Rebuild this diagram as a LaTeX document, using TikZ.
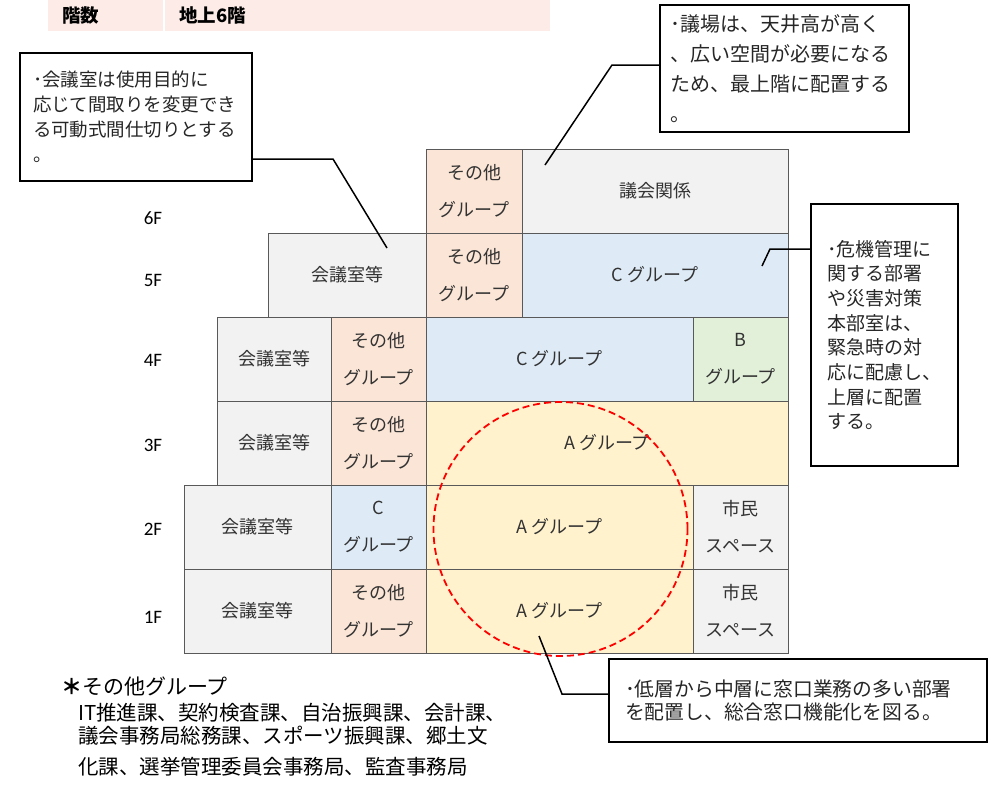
\documentclass[tikz,border=0pt]{standalone}
\usepackage{fontspec}
\setmainfont{Noto Sans CJK JP}
\newfontfamily\floorfont{Carlito}
\usetikzlibrary{positioning}
\definecolor{roomgray}{HTML}{F2F2F2}
\definecolor{otherpeach}{HTML}{FBE5D6}
\definecolor{groupblue}{HTML}{DEEBF7}
\definecolor{groupgreen}{HTML}{E2F0D9}
\definecolor{groupyellow}{HTML}{FFF2CC}
\definecolor{headpink}{HTML}{FCEBE6}
\definecolor{edgegray}{HTML}{595959}
\definecolor{textgray}{HTML}{333333}

\begin{document}
\begin{tikzpicture}[x=1pt,y=-1pt]
	\tikzset{
	  RoomStyle/.style = { draw=edgegray, line width=0.9pt, inner sep=0pt,
	                       outer sep=0pt, minimum height=84, anchor=north west,
	                       align=center, text=textgray,
	                       font=\fontsize{18}{37}\selectfont },
	  HeadStyle/.style = { fill=headpink, minimum height=31, inner ysep=0pt,
	                       inner xsep=14pt, anchor=north west, align=left,
	                       font=\bfseries\fontsize{18.5}{20}\selectfont },
	  NoteStyle/.style = { draw, line width=1.6pt, inner ysep=0pt,
	                       align=left, text=black!85 },
	  LeaderStyle/.style = { line width=1.5pt },
	  FloorStyle/.style = { font=\floorfont\fontsize{19}{19}\selectfont },
	  ListStyle/.style = { anchor=west, inner sep=0pt,
	                       font=\fontsize{20.5}{20}\selectfont } }
	\useasboundingbox (0,0) rectangle (989,785);
	% header
	\node[HeadStyle, minimum width=115, text width=87] (head1) at (48,0) {階数};
	\node[HeadStyle, minimum width=385, text width=357] (head2) at (165,0) {地上6階};
	% 6F
	\node[RoomStyle, fill=otherpeach, minimum width=96] (r6a) at (426,149) {その他\\グループ};
	\node[RoomStyle, fill=roomgray, minimum width=266, right=0pt of r6a] (r6b) {議会関係};
	% 5F
	\node[RoomStyle, fill=roomgray, minimum width=158] (r5a) at (268,233) {会議室等};
	\node[RoomStyle, fill=otherpeach, minimum width=96, right=0pt of r5a] (r5b) {その他\\グループ};
	\node[RoomStyle, fill=groupblue, minimum width=266, right=0pt of r5b] (r5c) {C グループ};
	% 4F
	\node[RoomStyle, fill=roomgray, minimum width=114] (r4a) at (217,317) {会議室等};
	\node[RoomStyle, fill=otherpeach, minimum width=95, right=0pt of r4a] (r4b) {その他\\グループ};
	\node[RoomStyle, fill=groupblue, minimum width=267, right=0pt of r4b] (r4c) {C グループ};
	\node[RoomStyle, fill=groupgreen, minimum width=95, right=0pt of r4c] (r4d) {B\\グループ};
	% 3F
	\node[RoomStyle, fill=roomgray, minimum width=114] (r3a) at (217,401) {会議室等};
	\node[RoomStyle, fill=otherpeach, minimum width=95, right=0pt of r3a] (r3b) {その他\\グループ};
	\node[RoomStyle, fill=groupyellow, minimum width=362, right=0pt of r3b] (r3c) {A グループ};
	% 2F
	\node[RoomStyle, fill=roomgray, minimum width=147] (r2a) at (184,485) {会議室等};
	\node[RoomStyle, fill=groupblue, minimum width=95, right=0pt of r2a] (r2b) {C\\グループ};
	\node[RoomStyle, fill=groupyellow, minimum width=267, right=0pt of r2b] (r2c) {A グループ};
	\node[RoomStyle, fill=roomgray, minimum width=95, right=0pt of r2c] (r2d) {市民\\スペース};
	% 1F
	\node[RoomStyle, fill=roomgray, minimum width=147] (r1a) at (184,569) {会議室等};
	\node[RoomStyle, fill=otherpeach, minimum width=95, right=0pt of r1a] (r1b) {その他\\グループ};
	\node[RoomStyle, fill=groupyellow, minimum width=267, right=0pt of r1b] (r1c) {A グループ};
	\node[RoomStyle, fill=roomgray, minimum width=95, right=0pt of r1c] (r1d) {市民\\スペース};
	% floors
	\node[FloorStyle] (fl6) at (153,218) {6F};
	\node[FloorStyle] (fl5) at (153,280) {5F};
	\node[FloorStyle] (fl4) at (153,360) {4F};
	\node[FloorStyle] (fl3) at (153,445) {3F};
	\node[FloorStyle] (fl2) at (153,529) {2F};
	\node[FloorStyle] (fl1) at (153,617) {1F};
	% window zone
	\node[draw=red, circle, line width=1.8pt, dash pattern=on 7pt off 4pt,
	      minimum size=254, inner sep=0pt] (zone) at (560.5,529) {};
	% notes
	\node[NoteStyle, minimum width=232, minimum height=128, inner xsep=13pt,
	      text width=206, font=\fontsize{18.5}{25}\selectfont] (lbox) at (136,117)
	  {･会議室は使用目的に\\応じて間取りを変更でき\\る可動式間仕切りとする\\。};
	\node[NoteStyle, minimum width=249, minimum height=127, inner xsep=10pt,
	      text width=229, font=\fontsize{20}{30}\selectfont] (tbox) at (784.5,68.5)
	  {･議場は、天井高が高く\\、広い空間が必要になる\\ため、最上階に配置する\\。};
	\node[NoteStyle, minimum width=147, minimum height=262, inner xsep=16pt,
	      text width=115, font=\fontsize{19}{24.7}\selectfont] (rbox) at (884.5,335)
	  {･危機管理に\\関する部署\\や災害対策\\本部室は、\\緊急時の対\\応に配慮し、\\上層に配置\\する。};
	\node[NoteStyle, minimum width=378, minimum height=83, inner xsep=16pt,
	      text width=346, font=\fontsize{19.8}{23}\selectfont] (bbox) at (798,700.5)
	  {･低層から中層に窓口業務の多い部署\\を配置し、総合窓口機能化を図る。};
	% leaders
	\coordinate (lknee) at (333,159);
	\coordinate (lend) at (387,248);
	\coordinate (tknee) at (612,65);
	\coordinate (tend) at (545,165);
	\coordinate (rknee) at (770,249);
	\coordinate (rend) at (762,266);
	\coordinate (bknee) at (562,694);
	\coordinate (bend) at (539,636);
	\draw[LeaderStyle] (lbox.east |- lknee) -- (lknee) -- (lend);
	\draw[LeaderStyle] (tbox.west |- tknee) -- (tknee) -- (tend);
	\draw[LeaderStyle] (rbox.west |- rknee) -- (rknee) -- (rend);
	\draw[LeaderStyle] (bbox.west |- bknee) -- (bknee) -- (bend);
	% other groups
	\node[ListStyle, font=\fontsize{21}{21}\selectfont] (otitle) at (61,686) {\textbf{＊}その他グループ};
	\node[ListStyle] (oline1) at (78,713) {IT推進課、契約検査課、自治振興課、会計課、};
	\node[ListStyle] (oline2) at (78,736) {議会事務局総務課、スポーツ振興課、郷土文};
	\node[ListStyle] (oline3) at (78,767) {化課、選挙管理委員会事務局、監査事務局};
\end{tikzpicture}
\end{document}
